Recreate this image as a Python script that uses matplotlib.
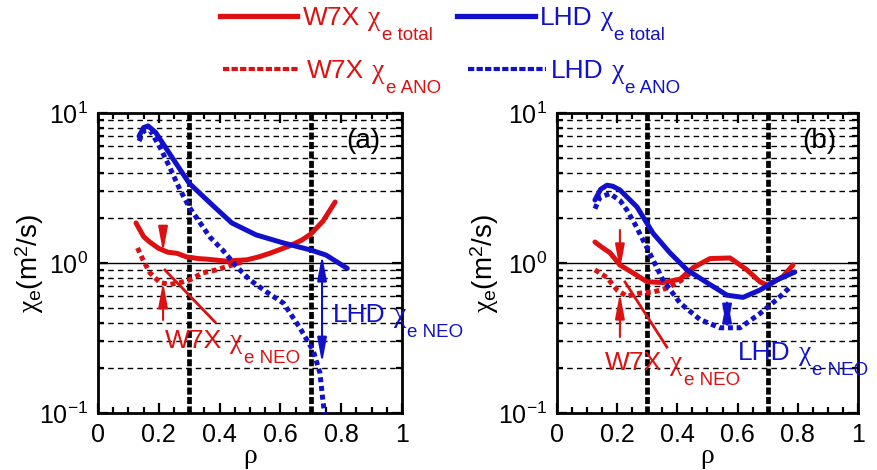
import matplotlib
matplotlib.use("Agg")
import matplotlib.pyplot as plt
from matplotlib.transforms import IdentityTransform
from matplotlib.lines import Line2D
from matplotlib.ticker import MultipleLocator, LogLocator, FixedLocator, FuncFormatter, NullFormatter

plt.rcParams['font.family'] = ['Liberation Sans', 'DejaVu Sans']
plt.rcParams['mathtext.fontset'] = 'custom'
plt.rcParams['mathtext.rm'] = 'Liberation Sans'
plt.rcParams['mathtext.it'] = 'Liberation Serif'
plt.rcParams['mathtext.bf'] = 'Liberation Sans:bold'
plt.rcParams['axes.unicode_minus'] = False

RED = '#dd1111'
BLUE = '#1111cc'

# ---------------- data: panel (a) ----------------
rho_w7x_tot_a = [0.125, 0.15, 0.17, 0.2, 0.23, 0.26, 0.29, 0.33, 0.36, 0.42, 0.49, 0.53, 0.57, 0.63, 0.67, 0.70, 0.74, 0.78]
chi_w7x_tot_a = [1.85, 1.5, 1.38, 1.25, 1.18, 1.16, 1.1, 1.07, 1.06, 1.03, 1.05, 1.1, 1.17, 1.3, 1.42, 1.56, 1.9, 2.55]
rho_w7x_ano_a = [0.13, 0.148, 0.171, 0.204, 0.237, 0.27, 0.30, 0.345, 0.39, 0.434, 0.477]
chi_w7x_ano_a = [1.26, 1.05, 0.86, 0.74, 0.72, 0.74, 0.77, 0.86, 0.9, 0.96, 1.02]
rho_lhd_tot_a = [0.135, 0.15, 0.165, 0.19, 0.237, 0.30, 0.37, 0.44, 0.52, 0.61, 0.70, 0.75, 0.82]
chi_lhd_tot_a = [7.0, 8.0, 8.2, 7.4, 5.3, 3.4, 2.5, 1.85, 1.54, 1.36, 1.22, 1.13, 0.92]
rho_lhd_ano_a = [0.135, 0.15, 0.171, 0.204, 0.237, 0.27, 0.30, 0.336, 0.368, 0.41, 0.457, 0.50, 0.555, 0.61, 0.664, 0.708, 0.73, 0.74, 0.748]
chi_lhd_ano_a = [6.5, 7.6, 7.7, 5.9, 4.3, 3.07, 2.36, 1.85, 1.49, 1.22, 0.94, 0.77, 0.64, 0.54, 0.37, 0.26, 0.185, 0.12, 0.09]

# ---------------- data: panel (b) ----------------
rho_w7x_tot_b = [0.126, 0.15, 0.176, 0.209, 0.252, 0.299, 0.352, 0.409, 0.452, 0.508, 0.575, 0.631, 0.674, 0.70, 0.75, 0.784]
chi_w7x_tot_b = [1.38, 1.27, 1.17, 0.97, 0.86, 0.75, 0.74, 0.78, 0.93, 1.07, 1.08, 0.9, 0.75, 0.71, 0.81, 0.97]
rho_w7x_ano_b = [0.126, 0.166, 0.2, 0.232, 0.276, 0.319, 0.365, 0.41, 0.45]
chi_w7x_ano_b = [0.9, 0.8, 0.66, 0.6, 0.63, 0.64, 0.68, 0.76, 0.88]
rho_lhd_tot_b = [0.126, 0.145, 0.166, 0.185, 0.209, 0.266, 0.319, 0.375, 0.432, 0.498, 0.565, 0.618, 0.674, 0.73, 0.79]
chi_lhd_tot_b = [2.63, 3.1, 3.3, 3.25, 3.07, 2.36, 1.58, 1.17, 0.9, 0.74, 0.61, 0.59, 0.66, 0.77, 0.87]
rho_lhd_ano_b = [0.126, 0.143, 0.176, 0.21, 0.232, 0.26, 0.286, 0.319, 0.352, 0.409, 0.475, 0.541, 0.608, 0.674, 0.73, 0.774]
chi_lhd_ano_b = [2.3, 2.75, 2.9, 2.6, 2.26, 1.8, 1.42, 1.05, 0.77, 0.54, 0.42, 0.37, 0.37, 0.46, 0.57, 0.69]

vlines_rho = [0.3, 0.7]
xticks = [0, 0.2, 0.4, 0.6, 0.8, 1.0]
panel_labels = ['(a)', '(b)']

fig = plt.figure(figsize=(8.78, 4.70), dpi=100)
axA = fig.add_axes([98 / 878, 1 - 413 / 470, 304 / 878, 300 / 470])
axB = fig.add_axes([557 / 878, 1 - 413 / 470, 301 / 878, 300 / 470])

LW = 3.6
DOT = (0, (1.0, 0.75))


def setup(ax, label, lab_x):
    ax.set_yscale('log')
    ax.set_xlim(0, 1)
    ax.set_ylim(0.1, 10)
    for dec in [0.1, 1.0]:
        for k in range(2, 10):
            ax.axhline(dec * k, color='black', lw=1.0, ls=(0, (4, 3)), zorder=1)
    ax.axhline(1.0, color='black', lw=1.0, zorder=1)
    for v in vlines_rho:
        ax.axvline(v, color='black', lw=3.4, ls=(0, (1.5, 0.5)), zorder=1.5)
    ax.xaxis.set_major_locator(FixedLocator(xticks))
    ax.xaxis.set_minor_locator(MultipleLocator(0.05))
    ax.xaxis.set_major_formatter(FuncFormatter(lambda v, p: '0' if v == 0 else ('1' if v == 1 else '%.1f' % v)))
    ax.yaxis.set_major_locator(FixedLocator([0.1, 1, 10]))
    ax.yaxis.set_minor_locator(LogLocator(base=10, subs=range(2, 10)))
    ax.yaxis.set_minor_formatter(NullFormatter())
    ax.tick_params(which='both', direction='in', top=True, right=True, labelsize=18, width=1.6)
    ax.tick_params(which='major', length=7, pad=7)
    ax.tick_params(which='minor', length=4.5)
    for s in ax.spines.values():
        s.set_linewidth(2.0)
    ax.set_ylabel(r'$\chi_{\mathrm{e}}$(m$^{2}$/s)', fontsize=20)
    ax.yaxis.set_label_coords(lab_x, 0.5)
    ax.set_xlabel(u'\u03c1', fontsize=20, labelpad=-2, family=['Liberation Serif'])
    ax.text(0.872, 0.905, label, transform=ax.transAxes, fontsize=20, ha='center', va='center')


setup(axA, panel_labels[0], -0.17)
setup(axB, panel_labels[1], -0.185)

# panel (a)
axA.plot(rho_w7x_tot_a, chi_w7x_tot_a, color=RED, lw=LW, solid_capstyle='round', zorder=3)
axA.plot(rho_w7x_ano_a, chi_w7x_ano_a, color=RED, lw=LW, ls=DOT, zorder=3)
axA.plot(rho_lhd_tot_a, chi_lhd_tot_a, color=BLUE, lw=LW, solid_capstyle='round', zorder=4)
axA.plot(rho_lhd_ano_a, chi_lhd_ano_a, color=BLUE, lw=LW, ls=DOT, zorder=4)

# panel (b)
axB.plot(rho_w7x_tot_b, chi_w7x_tot_b, color=RED, lw=LW, solid_capstyle='round', zorder=3)
axB.plot(rho_w7x_ano_b, chi_w7x_ano_b, color=RED, lw=LW, ls=DOT, zorder=3)
axB.plot(rho_lhd_tot_b, chi_lhd_tot_b, color=BLUE, lw=LW, solid_capstyle='round', zorder=4)
axB.plot(rho_lhd_ano_b, chi_lhd_ano_b, color=BLUE, lw=LW, ls=DOT, zorder=4)

ARROW1 = '-|>,head_length=0.75,head_width=0.14'
ARROW2 = '<|-|>,head_length=0.75,head_width=0.14'


def arrow(ax, x, y0, y1, color, style=ARROW1):
    ax.annotate('', xy=(x, y1), xytext=(x, y0),
                arrowprops=dict(arrowstyle=style, color=color, lw=1.5, mutation_scale=20,
                                shrinkA=0, shrinkB=0), zorder=6)


arrow(axA, 0.214, 1.71, 1.18, RED)
arrow(axA, 0.214, 0.417, 0.747, RED)
axA.plot([0.22, 0.385], [0.898, 0.404], color=RED, lw=2.0, zorder=6)
arrow(axA, 0.737, 1.13, 0.215, BLUE, ARROW2)

arrow(axB, 0.209, 1.66, 0.90, RED)
arrow(axB, 0.209, 0.321, 0.63, RED)
axB.plot([0.226, 0.365], [0.747, 0.275], color=RED, lw=2.0, zorder=6)
arrow(axB, 0.565, 0.593, 0.357, BLUE, ARROW2)

renderer = fig.canvas.get_renderer()
MAIN = 19
SUB = 13.5
DROP = 15


def rich(x, y, parts, color):
    for s, size, dy, gap, fam in parts:
        t = fig.text(x, y - dy, s, transform=IdentityTransform(), fontsize=size,
                     color=color, ha='left', va='baseline', zorder=10, family=fam)
        w = t.get_window_extent(renderer).width
        x += w + gap


SANS = ['Liberation Sans', 'DejaVu Sans']
SERIF = ['Liberation Serif', 'DejaVu Serif']


def label_parts(name, sub):
    return [(name, MAIN, 0, 8, SANS), (u'\u03c7', MAIN + 1, 0, 1, SERIF), (sub, SUB, DROP, 0, SANS)]


def data_rich(ax, x, y, name, sub, color):
    px, py = ax.transData.transform((x, y))
    rich(px, py, label_parts(name, sub), color)


data_rich(axA, 0.22, 0.271, 'W7X', 'e NEO', RED)
data_rich(axA, 0.773, 0.404, 'LHD', 'e NEO', BLUE)
data_rich(axB, 0.16, 0.193, 'W7X', 'e NEO', RED)
data_rich(axB, 0.601, 0.226, 'LHD', 'e NEO', BLUE)

# legend (top)
H = 470
fig.add_artist(Line2D([220, 297], [H - 16, H - 16], transform=IdentityTransform(), color=RED, lw=3.8))
fig.add_artist(Line2D([457, 535], [H - 16, H - 16], transform=IdentityTransform(), color=BLUE, lw=3.8))
fig.add_artist(Line2D([223, 300], [H - 69, H - 69], transform=IdentityTransform(), color=RED, lw=3.0,
                      ls=(0, (1.5, 0.55))))
fig.add_artist(Line2D([468, 546], [H - 69, H - 69], transform=IdentityTransform(), color=BLUE, lw=3.0,
                      ls=(0, (1.5, 0.55))))
rich(303, H - 25, label_parts('W7X', 'e total'), RED)
rich(540, H - 25, label_parts('LHD', 'e total'), BLUE)
rich(307, H - 78, label_parts('W7X', 'e ANO'), RED)
rich(551, H - 78, label_parts('LHD', 'e ANO'), BLUE)

fig.savefig('out.png', dpi=100)
